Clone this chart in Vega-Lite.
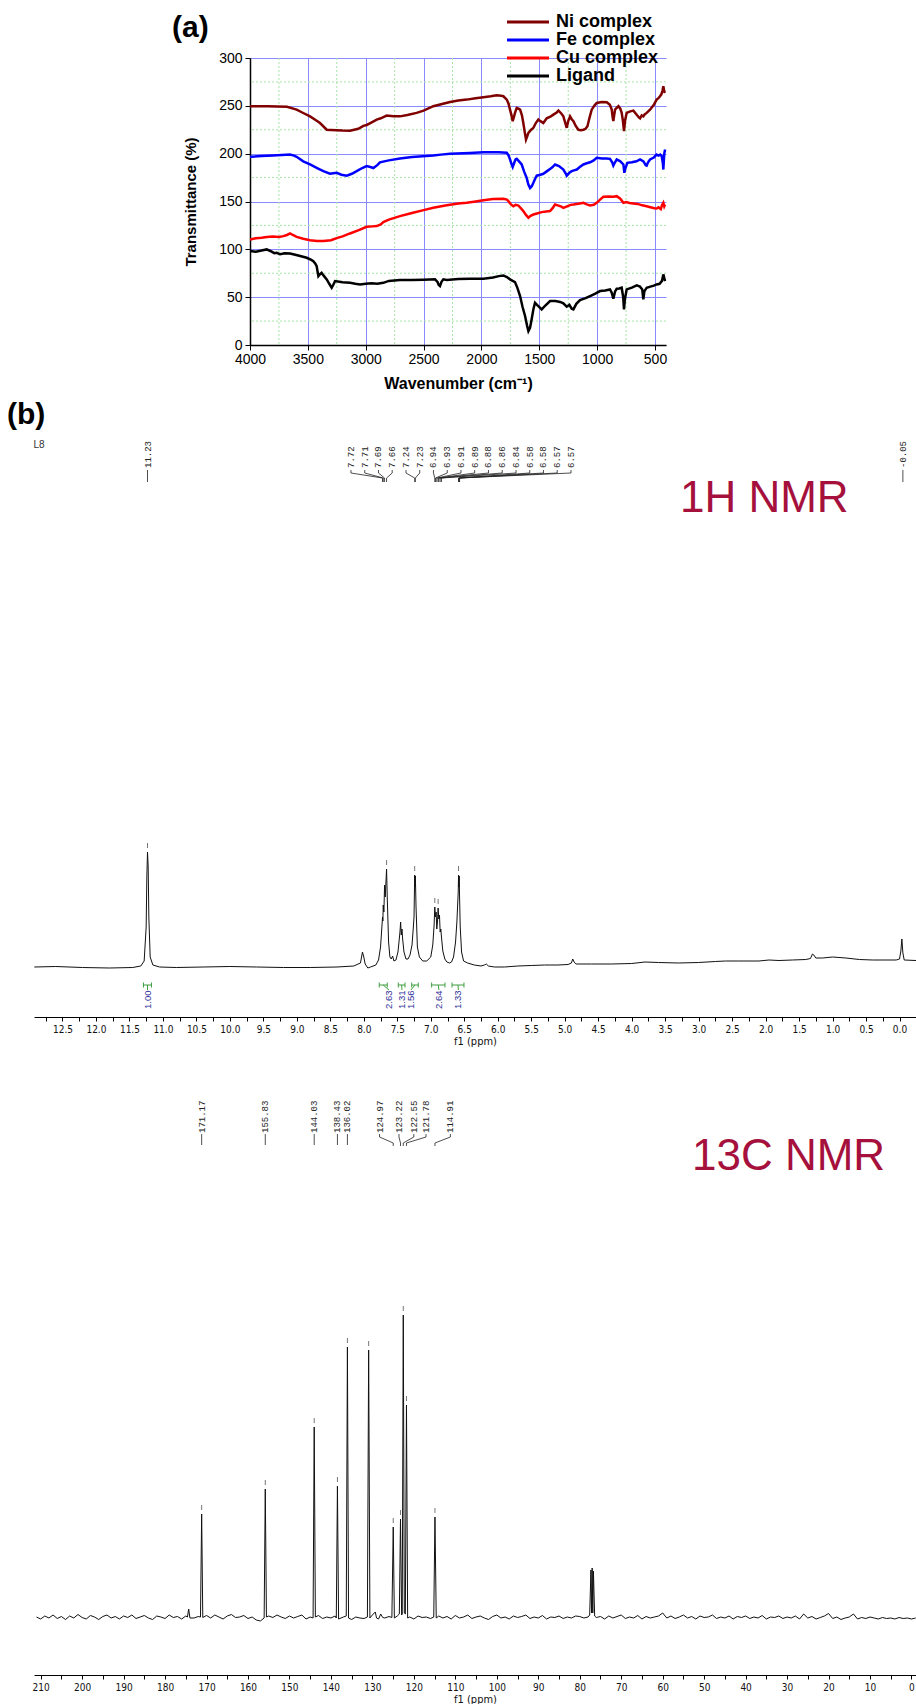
{
"$schema": "https://vega.github.io/schema/vega-lite/v6.json",
"background": "white",
"padding": {"left": 7, "top": 13, "right": 0, "bottom": 0},
"config": {"view": {"stroke": null}, "font": "Liberation Sans", "concat": {"spacing": 8}},
"spacing": 8,
"vconcat": [
{
"spacing": 0,
"hconcat": [
{"width": 138, "height": 10, "data": {"values": [{"lab": ""}]}, "mark": {"type": "text"}, "encoding": {"text": {"field": "lab"}}},
{
"width": 416, "height": 287,
"layer": [
{"data": {"values": [{"w":3750},{"w":3250},{"w":2750},{"w":2250},{"w":1750},{"w":1250},{"w":750}]},
 "mark": {"type": "rule", "color": "#a8e4a8", "strokeDash": [2,2], "strokeWidth": 1},
 "encoding": {"x": {"field": "w", "type": "quantitative", "scale": {"domain": [4000, 405], "nice": false, "zero": false}}}},
{"data": {"values": [{"t":25},{"t":75},{"t":125},{"t":175},{"t":225},{"t":275}]},
 "mark": {"type": "rule", "color": "#a8e4a8", "strokeDash": [2,2], "strokeWidth": 1},
 "encoding": {"y": {"field": "t", "type": "quantitative", "scale": {"domain": [0, 300], "nice": false, "zero": false}}}},
{"data": {"values": [
{"s":"Ni complex","w":4000,"t":249.6},{"s":"Ni complex","w":3850,"t":249.5},{"s":"Ni complex","w":3680,"t":249},{"s":"Ni complex","w":3597,"t":246},{"s":"Ni complex","w":3540,"t":242.5},{"s":"Ni complex","w":3481,"t":239},{"s":"Ni complex","w":3430,"t":235},{"s":"Ni complex","w":3395,"t":232},{"s":"Ni complex","w":3337,"t":225},{"s":"Ni complex","w":3300,"t":224.8},{"s":"Ni complex","w":3251,"t":224.5},{"s":"Ni complex","w":3200,"t":224.2},{"s":"Ni complex","w":3136,"t":224},{"s":"Ni complex","w":3064,"t":226},{"s":"Ni complex","w":3020,"t":229},{"s":"Ni complex","w":2992,"t":230},{"s":"Ni complex","w":2960,"t":232},{"s":"Ni complex","w":2905,"t":235.6},{"s":"Ni complex","w":2870,"t":237},{"s":"Ni complex","w":2819,"t":239.8},{"s":"Ni complex","w":2760,"t":239},{"s":"Ni complex","w":2704,"t":239},{"s":"Ni complex","w":2640,"t":240.5},{"s":"Ni complex","w":2560,"t":242.6},{"s":"Ni complex","w":2500,"t":245},{"s":"Ni complex","w":2416,"t":249.6},{"s":"Ni complex","w":2340,"t":252},{"s":"Ni complex","w":2271,"t":254},{"s":"Ni complex","w":2200,"t":255.5},{"s":"Ni complex","w":2127,"t":256.5},{"s":"Ni complex","w":2050,"t":258},{"s":"Ni complex","w":1983,"t":259},{"s":"Ni complex","w":1920,"t":260},{"s":"Ni complex","w":1868,"t":261},{"s":"Ni complex","w":1830,"t":260.5},{"s":"Ni complex","w":1810,"t":260},{"s":"Ni complex","w":1781,"t":256.5},{"s":"Ni complex","w":1765,"t":252},{"s":"Ni complex","w":1753,"t":246},{"s":"Ni complex","w":1740,"t":240},{"s":"Ni complex","w":1730,"t":234},{"s":"Ni complex","w":1720,"t":238},{"s":"Ni complex","w":1710,"t":242.6},{"s":"Ni complex","w":1695,"t":247.8},{"s":"Ni complex","w":1680,"t":247},{"s":"Ni complex","w":1666,"t":246},{"s":"Ni complex","w":1650,"t":240},{"s":"Ni complex","w":1638,"t":232},{"s":"Ni complex","w":1625,"t":222},{"s":"Ni complex","w":1615,"t":214.8},{"s":"Ni complex","w":1605,"t":218},{"s":"Ni complex","w":1594,"t":221.7},{"s":"Ni complex","w":1570,"t":225},{"s":"Ni complex","w":1551,"t":227},{"s":"Ni complex","w":1530,"t":232},{"s":"Ni complex","w":1508,"t":235.6},{"s":"Ni complex","w":1490,"t":234},{"s":"Ni complex","w":1465,"t":232},{"s":"Ni complex","w":1436,"t":237},{"s":"Ni complex","w":1400,"t":239},{"s":"Ni complex","w":1378,"t":240.8},{"s":"Ni complex","w":1350,"t":243},{"s":"Ni complex","w":1335,"t":245},{"s":"Ni complex","w":1310,"t":242},{"s":"Ni complex","w":1292,"t":239},{"s":"Ni complex","w":1275,"t":232},{"s":"Ni complex","w":1263,"t":227},{"s":"Ni complex","w":1250,"t":234},{"s":"Ni complex","w":1234,"t":239},{"s":"Ni complex","w":1220,"t":236},{"s":"Ni complex","w":1205,"t":234},{"s":"Ni complex","w":1185,"t":229},{"s":"Ni complex","w":1162,"t":225},{"s":"Ni complex","w":1140,"t":224.5},{"s":"Ni complex","w":1119,"t":225},{"s":"Ni complex","w":1100,"t":226},{"s":"Ni complex","w":1084,"t":228.7},{"s":"Ni complex","w":1065,"t":238},{"s":"Ni complex","w":1047,"t":246},{"s":"Ni complex","w":1025,"t":250},{"s":"Ni complex","w":1004,"t":253},{"s":"Ni complex","w":960,"t":254},{"s":"Ni complex","w":917,"t":253.7},{"s":"Ni complex","w":890,"t":251},{"s":"Ni complex","w":874,"t":246},{"s":"Ni complex","w":866,"t":238},{"s":"Ni complex","w":860,"t":234},{"s":"Ni complex","w":853,"t":240},{"s":"Ni complex","w":845,"t":246},{"s":"Ni complex","w":830,"t":248},{"s":"Ni complex","w":816,"t":249.6},{"s":"Ni complex","w":800,"t":247},{"s":"Ni complex","w":788,"t":242.6},{"s":"Ni complex","w":778,"t":235},{"s":"Ni complex","w":768,"t":223.5},{"s":"Ni complex","w":758,"t":235},{"s":"Ni complex","w":745,"t":242.6},{"s":"Ni complex","w":720,"t":244},{"s":"Ni complex","w":687,"t":245},{"s":"Ni complex","w":660,"t":241},{"s":"Ni complex","w":640,"t":238},{"s":"Ni complex","w":629,"t":237},{"s":"Ni complex","w":615,"t":240},{"s":"Ni complex","w":601,"t":239},{"s":"Ni complex","w":590,"t":241},{"s":"Ni complex","w":572,"t":242.6},{"s":"Ni complex","w":543,"t":246},{"s":"Ni complex","w":510,"t":251},{"s":"Ni complex","w":486,"t":256.5},{"s":"Ni complex","w":470,"t":258},{"s":"Ni complex","w":457,"t":260},{"s":"Ni complex","w":445,"t":262},{"s":"Ni complex","w":435,"t":266},{"s":"Ni complex","w":428,"t":270.5},{"s":"Ni complex","w":420,"t":265},{"s":"Ni complex","w":413,"t":263.5},
{"s":"Fe complex","w":4000,"t":196.7},{"s":"Fe complex","w":3900,"t":197.5},{"s":"Fe complex","w":3800,"t":198},{"s":"Fe complex","w":3654,"t":199},{"s":"Fe complex","w":3620,"t":198},{"s":"Fe complex","w":3597,"t":196.7},{"s":"Fe complex","w":3540,"t":192},{"s":"Fe complex","w":3481,"t":188.7},{"s":"Fe complex","w":3420,"t":185},{"s":"Fe complex","w":3366,"t":181.7},{"s":"Fe complex","w":3309,"t":179},{"s":"Fe complex","w":3280,"t":179.5},{"s":"Fe complex","w":3251,"t":180},{"s":"Fe complex","w":3210,"t":178},{"s":"Fe complex","w":3164,"t":177},{"s":"Fe complex","w":3120,"t":179},{"s":"Fe complex","w":3078,"t":181.7},{"s":"Fe complex","w":3030,"t":185},{"s":"Fe complex","w":2992,"t":187},{"s":"Fe complex","w":2960,"t":186},{"s":"Fe complex","w":2934,"t":185},{"s":"Fe complex","w":2900,"t":188},{"s":"Fe complex","w":2877,"t":191},{"s":"Fe complex","w":2800,"t":193},{"s":"Fe complex","w":2704,"t":195},{"s":"Fe complex","w":2600,"t":196.5},{"s":"Fe complex","w":2416,"t":198},{"s":"Fe complex","w":2350,"t":199},{"s":"Fe complex","w":2271,"t":200},{"s":"Fe complex","w":2100,"t":200.8},{"s":"Fe complex","w":1983,"t":201.5},{"s":"Fe complex","w":1850,"t":201.5},{"s":"Fe complex","w":1781,"t":201},{"s":"Fe complex","w":1765,"t":198},{"s":"Fe complex","w":1753,"t":194},{"s":"Fe complex","w":1740,"t":189},{"s":"Fe complex","w":1730,"t":186},{"s":"Fe complex","w":1715,"t":191},{"s":"Fe complex","w":1705,"t":194},{"s":"Fe complex","w":1695,"t":194.6},{"s":"Fe complex","w":1675,"t":192},{"s":"Fe complex","w":1652,"t":188.7},{"s":"Fe complex","w":1630,"t":181},{"s":"Fe complex","w":1609,"t":174.7},{"s":"Fe complex","w":1595,"t":168},{"s":"Fe complex","w":1580,"t":164},{"s":"Fe complex","w":1565,"t":166},{"s":"Fe complex","w":1551,"t":169.5},{"s":"Fe complex","w":1535,"t":174},{"s":"Fe complex","w":1522,"t":177},{"s":"Fe complex","w":1490,"t":178},{"s":"Fe complex","w":1465,"t":179},{"s":"Fe complex","w":1430,"t":182},{"s":"Fe complex","w":1407,"t":184},{"s":"Fe complex","w":1385,"t":186},{"s":"Fe complex","w":1364,"t":188.7},{"s":"Fe complex","w":1330,"t":187},{"s":"Fe complex","w":1292,"t":183.4},{"s":"Fe complex","w":1270,"t":179},{"s":"Fe complex","w":1263,"t":177},{"s":"Fe complex","w":1240,"t":180},{"s":"Fe complex","w":1220,"t":181.7},{"s":"Fe complex","w":1200,"t":182.5},{"s":"Fe complex","w":1176,"t":183.4},{"s":"Fe complex","w":1150,"t":186},{"s":"Fe complex","w":1119,"t":188.7},{"s":"Fe complex","w":1090,"t":190},{"s":"Fe complex","w":1061,"t":191},{"s":"Fe complex","w":1030,"t":193},{"s":"Fe complex","w":1004,"t":195.6},{"s":"Fe complex","w":960,"t":195},{"s":"Fe complex","w":920,"t":195},{"s":"Fe complex","w":889,"t":194.6},{"s":"Fe complex","w":870,"t":191},{"s":"Fe complex","w":860,"t":187.6},{"s":"Fe complex","w":850,"t":190},{"s":"Fe complex","w":831,"t":193.9},{"s":"Fe complex","w":800,"t":192},{"s":"Fe complex","w":773,"t":188.7},{"s":"Fe complex","w":765,"t":180},{"s":"Fe complex","w":755,"t":185},{"s":"Fe complex","w":739,"t":190.4},{"s":"Fe complex","w":700,"t":191},{"s":"Fe complex","w":660,"t":192},{"s":"Fe complex","w":629,"t":193.9},{"s":"Fe complex","w":600,"t":192},{"s":"Fe complex","w":580,"t":188},{"s":"Fe complex","w":572,"t":187.6},{"s":"Fe complex","w":560,"t":191},{"s":"Fe complex","w":543,"t":193.9},{"s":"Fe complex","w":510,"t":196},{"s":"Fe complex","w":486,"t":199},{"s":"Fe complex","w":470,"t":198},{"s":"Fe complex","w":455,"t":199},{"s":"Fe complex","w":442,"t":197.4},{"s":"Fe complex","w":432,"t":190},{"s":"Fe complex","w":428,"t":183.4},{"s":"Fe complex","w":420,"t":200},{"s":"Fe complex","w":413,"t":204.3},
{"s":"Cu complex","w":4000,"t":110.3},{"s":"Cu complex","w":3950,"t":111.5},{"s":"Cu complex","w":3900,"t":112},{"s":"Cu complex","w":3856,"t":113},{"s":"Cu complex","w":3800,"t":113.5},{"s":"Cu complex","w":3750,"t":113},{"s":"Cu complex","w":3712,"t":113.8},{"s":"Cu complex","w":3680,"t":115},{"s":"Cu complex","w":3654,"t":116.6},{"s":"Cu complex","w":3630,"t":115},{"s":"Cu complex","w":3597,"t":113},{"s":"Cu complex","w":3540,"t":111},{"s":"Cu complex","w":3481,"t":109.6},{"s":"Cu complex","w":3420,"t":108.8},{"s":"Cu complex","w":3366,"t":108.6},{"s":"Cu complex","w":3300,"t":109.5},{"s":"Cu complex","w":3251,"t":111.7},{"s":"Cu complex","w":3200,"t":113.5},{"s":"Cu complex","w":3136,"t":116.6},{"s":"Cu complex","w":3060,"t":120},{"s":"Cu complex","w":2992,"t":123.6},{"s":"Cu complex","w":2940,"t":124},{"s":"Cu complex","w":2905,"t":124.3},{"s":"Cu complex","w":2870,"t":126},{"s":"Cu complex","w":2848,"t":128.4},{"s":"Cu complex","w":2800,"t":131},{"s":"Cu complex","w":2704,"t":134.7},{"s":"Cu complex","w":2600,"t":138},{"s":"Cu complex","w":2500,"t":141},{"s":"Cu complex","w":2416,"t":143.4},{"s":"Cu complex","w":2300,"t":146},{"s":"Cu complex","w":2200,"t":148},{"s":"Cu complex","w":2127,"t":148.6},{"s":"Cu complex","w":2050,"t":150},{"s":"Cu complex","w":1983,"t":151.4},{"s":"Cu complex","w":1900,"t":152.5},{"s":"Cu complex","w":1810,"t":152.8},{"s":"Cu complex","w":1780,"t":152},{"s":"Cu complex","w":1767,"t":150.4},{"s":"Cu complex","w":1745,"t":147},{"s":"Cu complex","w":1724,"t":145},{"s":"Cu complex","w":1705,"t":146.5},{"s":"Cu complex","w":1681,"t":145.8},{"s":"Cu complex","w":1660,"t":143},{"s":"Cu complex","w":1638,"t":140},{"s":"Cu complex","w":1615,"t":136},{"s":"Cu complex","w":1594,"t":133},{"s":"Cu complex","w":1575,"t":135},{"s":"Cu complex","w":1551,"t":136.4},{"s":"Cu complex","w":1520,"t":137.5},{"s":"Cu complex","w":1479,"t":138.9},{"s":"Cu complex","w":1440,"t":139.5},{"s":"Cu complex","w":1407,"t":140},{"s":"Cu complex","w":1385,"t":143},{"s":"Cu complex","w":1364,"t":146.9},{"s":"Cu complex","w":1340,"t":146},{"s":"Cu complex","w":1315,"t":145},{"s":"Cu complex","w":1292,"t":143.4},{"s":"Cu complex","w":1260,"t":145},{"s":"Cu complex","w":1230,"t":146.5},{"s":"Cu complex","w":1205,"t":146.9},{"s":"Cu complex","w":1150,"t":148},{"s":"Cu complex","w":1119,"t":148.6},{"s":"Cu complex","w":1090,"t":147},{"s":"Cu complex","w":1061,"t":145.8},{"s":"Cu complex","w":1030,"t":146.5},{"s":"Cu complex","w":1004,"t":148.6},{"s":"Cu complex","w":975,"t":152},{"s":"Cu complex","w":946,"t":154.9},{"s":"Cu complex","w":900,"t":155.3},{"s":"Cu complex","w":860,"t":155},{"s":"Cu complex","w":831,"t":155.6},{"s":"Cu complex","w":800,"t":153},{"s":"Cu complex","w":773,"t":148.6},{"s":"Cu complex","w":750,"t":149.5},{"s":"Cu complex","w":720,"t":148.5},{"s":"Cu complex","w":687,"t":148},{"s":"Cu complex","w":650,"t":147.5},{"s":"Cu complex","w":610,"t":146},{"s":"Cu complex","w":572,"t":145},{"s":"Cu complex","w":540,"t":144},{"s":"Cu complex","w":505,"t":143},{"s":"Cu complex","w":486,"t":142.7},{"s":"Cu complex","w":470,"t":144},{"s":"Cu complex","w":450,"t":142},{"s":"Cu complex","w":440,"t":146},{"s":"Cu complex","w":428,"t":148.6},{"s":"Cu complex","w":420,"t":145},{"s":"Cu complex","w":413,"t":146.9},
{"s":"Ligand","w":4000,"t":98.2},{"s":"Ligand","w":3950,"t":97.5},{"s":"Ligand","w":3900,"t":98.8},{"s":"Ligand","w":3856,"t":99.9},{"s":"Ligand","w":3820,"t":98},{"s":"Ligand","w":3790,"t":96},{"s":"Ligand","w":3770,"t":96.4},{"s":"Ligand","w":3740,"t":95},{"s":"Ligand","w":3700,"t":96},{"s":"Ligand","w":3654,"t":95.7},{"s":"Ligand","w":3600,"t":94},{"s":"Ligand","w":3550,"t":92.5},{"s":"Ligand","w":3510,"t":91.2},{"s":"Ligand","w":3470,"t":89},{"s":"Ligand","w":3453,"t":87.7},{"s":"Ligand","w":3435,"t":85},{"s":"Ligand","w":3424,"t":82.5},{"s":"Ligand","w":3415,"t":76},{"s":"Ligand","w":3409,"t":72},{"s":"Ligand","w":3395,"t":74},{"s":"Ligand","w":3381,"t":75.5},{"s":"Ligand","w":3360,"t":72},{"s":"Ligand","w":3337,"t":68.6},{"s":"Ligand","w":3315,"t":64},{"s":"Ligand","w":3294,"t":59.9},{"s":"Ligand","w":3280,"t":63},{"s":"Ligand","w":3265,"t":66.8},{"s":"Ligand","w":3200,"t":65.5},{"s":"Ligand","w":3136,"t":65},{"s":"Ligand","w":3090,"t":64},{"s":"Ligand","w":3049,"t":63.3},{"s":"Ligand","w":3000,"t":64},{"s":"Ligand","w":2950,"t":64.5},{"s":"Ligand","w":2900,"t":64},{"s":"Ligand","w":2848,"t":65},{"s":"Ligand","w":2800,"t":67},{"s":"Ligand","w":2704,"t":67.9},{"s":"Ligand","w":2600,"t":68},{"s":"Ligand","w":2500,"t":68.3},{"s":"Ligand","w":2401,"t":68.6},{"s":"Ligand","w":2380,"t":66},{"s":"Ligand","w":2370,"t":63},{"s":"Ligand","w":2358,"t":61.6},{"s":"Ligand","w":2345,"t":66},{"s":"Ligand","w":2329,"t":68.6},{"s":"Ligand","w":2300,"t":68},{"s":"Ligand","w":2200,"t":69},{"s":"Ligand","w":2100,"t":69.2},{"s":"Ligand","w":1983,"t":69.3},{"s":"Ligand","w":1900,"t":70.5},{"s":"Ligand","w":1850,"t":72},{"s":"Ligand","w":1810,"t":72.7},{"s":"Ligand","w":1780,"t":71},{"s":"Ligand","w":1753,"t":68.6},{"s":"Ligand","w":1730,"t":67},{"s":"Ligand","w":1710,"t":65.8},{"s":"Ligand","w":1690,"t":60},{"s":"Ligand","w":1666,"t":51.2},{"s":"Ligand","w":1645,"t":40},{"s":"Ligand","w":1623,"t":30.3},{"s":"Ligand","w":1605,"t":20},{"s":"Ligand","w":1594,"t":14.6},{"s":"Ligand","w":1580,"t":18},{"s":"Ligand","w":1566,"t":26.8},{"s":"Ligand","w":1550,"t":38},{"s":"Ligand","w":1537,"t":44.2},{"s":"Ligand","w":1520,"t":42},{"s":"Ligand","w":1508,"t":40.7},{"s":"Ligand","w":1479,"t":37.2},{"s":"Ligand","w":1450,"t":41},{"s":"Ligand","w":1407,"t":45.9},{"s":"Ligand","w":1360,"t":46},{"s":"Ligand","w":1320,"t":45},{"s":"Ligand","w":1292,"t":43.5},{"s":"Ligand","w":1263,"t":40},{"s":"Ligand","w":1240,"t":42},{"s":"Ligand","w":1220,"t":38},{"s":"Ligand","w":1205,"t":37.2},{"s":"Ligand","w":1180,"t":43},{"s":"Ligand","w":1148,"t":47},{"s":"Ligand","w":1100,"t":49},{"s":"Ligand","w":1061,"t":51.2},{"s":"Ligand","w":1020,"t":53.5},{"s":"Ligand","w":975,"t":56.4},{"s":"Ligand","w":930,"t":57},{"s":"Ligand","w":889,"t":58.1},{"s":"Ligand","w":875,"t":55},{"s":"Ligand","w":860,"t":48.4},{"s":"Ligand","w":845,"t":56},{"s":"Ligand","w":831,"t":58.8},{"s":"Ligand","w":810,"t":59},{"s":"Ligand","w":788,"t":59.9},{"s":"Ligand","w":775,"t":50},{"s":"Ligand","w":768,"t":37.2},{"s":"Ligand","w":760,"t":48},{"s":"Ligand","w":745,"t":58.1},{"s":"Ligand","w":700,"t":60},{"s":"Ligand","w":658,"t":62.3},{"s":"Ligand","w":630,"t":61},{"s":"Ligand","w":610,"t":58},{"s":"Ligand","w":601,"t":47.7},{"s":"Ligand","w":592,"t":56},{"s":"Ligand","w":572,"t":59.9},{"s":"Ligand","w":540,"t":61},{"s":"Ligand","w":510,"t":62},{"s":"Ligand","w":486,"t":63.3},{"s":"Ligand","w":460,"t":64},{"s":"Ligand","w":440,"t":67},{"s":"Ligand","w":428,"t":73.8},{"s":"Ligand","w":420,"t":70},{"s":"Ligand","w":413,"t":66.8}
]},
 "mark": {"type": "line", "strokeWidth": 2.5},
 "encoding": {
  "x": {"field": "w", "type": "quantitative", "scale": {"domain": [4000, 405], "nice": false, "zero": false},
        "axis": {"values": [4000,3500,3000,2500,2000,1500,1000,500], "format": "d", "title": "Wavenumber (cm⁻¹)", "grid": true, "gridColor": "#8a8aff", "gridWidth": 1, "domainColor": "black", "domainWidth": 1.5, "tickColor": "black", "tickSize": 5, "labelFontSize": 14, "labelColor": "black", "labelPadding": 2, "labelFlush": false, "labelOverlap": false, "titleFontSize": 16, "titleFontWeight": "bold", "titleColor": "black", "titlePadding": 9}},
  "y": {"field": "t", "type": "quantitative", "scale": {"domain": [0, 300], "nice": false, "zero": false},
        "axis": {"values": [0,50,100,150,200,250,300], "title": "Transmittance (%)", "grid": true, "gridColor": "#8a8aff", "gridWidth": 1, "domainColor": "black", "domainWidth": 1.5, "tickColor": "black", "tickSize": 5, "labelFontSize": 14, "labelColor": "black", "labelPadding": 3, "labelOverlap": false, "titleFontSize": 15, "titleFontWeight": "bold", "titleColor": "black", "titlePadding": 20}},
  "color": {"field": "s", "type": "nominal", "scale": {"domain": ["Ni complex","Fe complex","Cu complex","Ligand"], "range": ["#800000","#0000ff","#ff0000","#000000"]},
        "legend": {"orient": "none", "legendX": 471, "legendY": -45, "direction": "vertical", "title": null, "symbolType": "M-1,0H5", "symbolSize": 196, "symbolStrokeWidth": 3, "labelFontSize": 18, "labelFontWeight": "bold", "labelColor": "black", "labelOffset": 33, "padding": 0, "rowPadding": -0.5}}
 }},
{"data": {"values": [{"lab": "(a)", "w": 4674, "t": 331}]},
 "mark": {"type": "text", "align": "left", "baseline": "middle", "fontSize": 30, "fontWeight": "bold", "color": "black"},
 "encoding": {"x": {"field": "w", "type": "quantitative", "scale": {"domain": [4000, 405], "nice": false, "zero": false}},
              "y": {"field": "t", "type": "quantitative", "scale": {"domain": [0, 300], "nice": false, "zero": false}},
              "text": {"field": "lab"}}}
]
}
]
},
{
"width": 882, "height": 618,
"encoding": {
 "x": {"field": "p", "type": "quantitative", "scale": {"domain": [12.925, -0.246], "nice": false, "zero": false}, "title": "f1 (ppm)",
       "axis": {"values": [12.75,12.5,12.25,12,11.75,11.5,11.25,11,10.75,10.5,10.25,10,9.75,9.5,9.25,9,8.75,8.5,8.25,8,7.75,7.5,7.25,7,6.75,6.5,6.25,6,5.75,5.5,5.25,5,4.75,4.5,4.25,4,3.75,3.5,3.25,3,2.75,2.5,2.25,2,1.75,1.5,1.25,1,0.75,0.5,0.25,0],
                "labelExpr": "(datum.value * 4) % 2 == 0 ? format(datum.value, '.1f') : ''", "grid": false, "domainColor": "black", "tickColor": "black", "tickSize": 4, "labelFontSize": 10, "labelFont": "DejaVu Sans Condensed, Liberation Sans Narrow, Liberation Sans", "labelColor": "#111", "labelPadding": 3, "labelFlush": false, "labelOverlap": false, "labelBound": false, "titleFontSize": 11, "titleFont": "DejaVu Sans Condensed, Liberation Sans Narrow, Liberation Sans", "titleFontWeight": "normal", "titleColor": "#111", "titlePadding": 1}},
 "y": {"field": "v", "type": "quantitative", "scale": {"domain": [0, 618], "nice": false, "zero": false}, "axis": null}
},
"layer": [
{"data": {"values": [
{"p":12.92,"v":50},{"p":12.6,"v":50.5},{"p":12.2,"v":49.5},{"p":11.8,"v":49},{"p":11.45,"v":49.5},{"p":11.33,"v":51},{"p":11.28,"v":56},{"p":11.25,"v":90},{"p":11.24,"v":140},{"p":11.23,"v":165},{"p":11.22,"v":150},{"p":11.21,"v":100},{"p":11.19,"v":60},{"p":11.15,"v":52},{"p":11.05,"v":50},{"p":10.8,"v":49.5},{"p":10.4,"v":50},{"p":10.0,"v":50.5},{"p":9.6,"v":50},{"p":9.2,"v":49.5},{"p":8.8,"v":49.5},{"p":8.4,"v":50},{"p":8.15,"v":51},{"p":8.05,"v":54},{"p":8.02,"v":65},{"p":8.0,"v":60},{"p":7.98,"v":53},{"p":7.94,"v":49},{"p":7.9,"v":50},{"p":7.82,"v":52},{"p":7.78,"v":57},{"p":7.75,"v":70},{"p":7.73,"v":90},{"p":7.72,"v":100},{"p":7.715,"v":96},{"p":7.71,"v":112},{"p":7.7,"v":105},{"p":7.69,"v":132},{"p":7.68,"v":120},{"p":7.66,"v":148},{"p":7.65,"v":120},{"p":7.63,"v":75},{"p":7.61,"v":60},{"p":7.59,"v":58},{"p":7.57,"v":61},{"p":7.55,"v":56},{"p":7.52,"v":57},{"p":7.49,"v":65},{"p":7.47,"v":78},{"p":7.46,"v":85},{"p":7.45,"v":95},{"p":7.44,"v":82},{"p":7.43,"v":88},{"p":7.42,"v":78},{"p":7.4,"v":65},{"p":7.37,"v":58},{"p":7.34,"v":58},{"p":7.31,"v":62},{"p":7.28,"v":72},{"p":7.26,"v":90},{"p":7.25,"v":100},{"p":7.24,"v":142},{"p":7.235,"v":130},{"p":7.23,"v":141},{"p":7.22,"v":110},{"p":7.2,"v":70},{"p":7.17,"v":60},{"p":7.12,"v":56},{"p":7.06,"v":56},{"p":7.0,"v":60},{"p":6.97,"v":72},{"p":6.95,"v":92},{"p":6.94,"v":110},{"p":6.93,"v":100},{"p":6.92,"v":105},{"p":6.91,"v":88},{"p":6.9,"v":95},{"p":6.89,"v":109},{"p":6.88,"v":98},{"p":6.87,"v":102},{"p":6.86,"v":85},{"p":6.85,"v":88},{"p":6.84,"v":80},{"p":6.82,"v":66},{"p":6.79,"v":58},{"p":6.76,"v":55},{"p":6.72,"v":54},{"p":6.69,"v":55},{"p":6.66,"v":60},{"p":6.63,"v":75},{"p":6.61,"v":95},{"p":6.59,"v":125},{"p":6.585,"v":142},{"p":6.58,"v":130},{"p":6.575,"v":141},{"p":6.57,"v":120},{"p":6.56,"v":90},{"p":6.54,"v":65},{"p":6.51,"v":56},{"p":6.45,"v":54},{"p":6.35,"v":52},{"p":6.25,"v":51},{"p":6.2,"v":52},{"p":6.17,"v":53},{"p":6.14,"v":51},{"p":6.05,"v":50},{"p":5.9,"v":50},{"p":5.7,"v":51},{"p":5.5,"v":51.5},{"p":5.3,"v":52},{"p":5.1,"v":52},{"p":4.95,"v":52.5},{"p":4.9,"v":54},{"p":4.88,"v":58},{"p":4.86,"v":55},{"p":4.83,"v":53},{"p":4.6,"v":53},{"p":4.3,"v":53},{"p":4.0,"v":53.5},{"p":3.8,"v":55},{"p":3.6,"v":54.5},{"p":3.3,"v":54},{"p":3.0,"v":54.5},{"p":2.75,"v":55.5},{"p":2.6,"v":56},{"p":2.4,"v":56},{"p":2.1,"v":56},{"p":1.95,"v":57},{"p":1.8,"v":56.5},{"p":1.6,"v":57},{"p":1.4,"v":57.5},{"p":1.33,"v":58.5},{"p":1.3,"v":63},{"p":1.28,"v":62},{"p":1.25,"v":59},{"p":1.15,"v":59},{"p":1.0,"v":60},{"p":0.8,"v":59},{"p":0.6,"v":57.5},{"p":0.4,"v":57},{"p":0.2,"v":57},{"p":0.05,"v":57},{"p":0.0,"v":58},{"p":-0.02,"v":66},{"p":-0.035,"v":78},{"p":-0.05,"v":64},{"p":-0.07,"v":57},{"p":-0.246,"v":56.5}
]},
 "mark": {"type": "line", "color": "#111", "strokeWidth": 1}},
{"data": {"values": [{"p":11.23,"v":169,"v2":174},{"p":7.66,"v":152,"v2":157},{"p":7.24,"v":146,"v2":151},{"p":6.94,"v":114,"v2":119},{"p":6.89,"v":113,"v2":118},{"p":6.585,"v":146,"v2":151}]},
 "mark": {"type": "rule", "color": "#777", "strokeWidth": 1},
 "encoding": {"y2": {"field": "v2"}}},
{"data": {"values": [
{"t":"11.23","p":11.23,"v":549},{"t":"-0.05","p":-0.05,"v":549},
{"t":"7.72","p":8.192,"v":549},{"t":"7.71","p":7.986,"v":549},{"t":"7.69","p":7.781,"v":549},{"t":"7.66","p":7.576,"v":549},{"t":"7.24","p":7.37,"v":549},{"t":"7.23","p":7.165,"v":549},{"t":"6.94","p":6.96,"v":549},{"t":"6.93","p":6.754,"v":549},{"t":"6.91","p":6.549,"v":549},{"t":"6.89","p":6.344,"v":549},{"t":"6.88","p":6.138,"v":549},{"t":"6.86","p":5.933,"v":549},{"t":"6.84","p":5.727,"v":549},{"t":"6.58","p":5.522,"v":549},{"t":"6.58","p":5.317,"v":549},{"t":"6.57","p":5.112,"v":549},{"t":"6.57","p":4.906,"v":549}
]},
 "mark": {"type": "text", "angle": 270, "align": "left", "baseline": "middle", "font": "Liberation Mono, DejaVu Sans Mono", "fontSize": 9, "color": "#222"},
 "encoding": {"text": {"field": "t"}}},
{"data": {"values": [
{"id":"a","k":1,"p":11.23,"v":547},{"id":"a","k":2,"p":11.23,"v":535},
{"id":"b","k":1,"p":-0.05,"v":547},{"id":"b","k":2,"p":-0.05,"v":535},
{"id":"g1","k":1,"p":8.192,"v":547},{"id":"g1","k":2,"p":8.192,"v":544},{"id":"g1","k":3,"p":7.72,"v":539},{"id":"g1","k":4,"p":7.72,"v":535},
{"id":"g2","k":1,"p":7.986,"v":547},{"id":"g2","k":2,"p":7.986,"v":544},{"id":"g2","k":3,"p":7.71,"v":539},{"id":"g2","k":4,"p":7.71,"v":535},
{"id":"g3","k":1,"p":7.781,"v":547},{"id":"g3","k":2,"p":7.781,"v":544},{"id":"g3","k":3,"p":7.69,"v":539},{"id":"g3","k":4,"p":7.69,"v":535},
{"id":"g4","k":1,"p":7.576,"v":547},{"id":"g4","k":2,"p":7.576,"v":544},{"id":"g4","k":3,"p":7.66,"v":539},{"id":"g4","k":4,"p":7.66,"v":535},
{"id":"g5","k":1,"p":7.37,"v":547},{"id":"g5","k":2,"p":7.37,"v":544},{"id":"g5","k":3,"p":7.24,"v":539},{"id":"g5","k":4,"p":7.24,"v":535},
{"id":"g6","k":1,"p":7.165,"v":547},{"id":"g6","k":2,"p":7.165,"v":544},{"id":"g6","k":3,"p":7.23,"v":539},{"id":"g6","k":4,"p":7.23,"v":535},
{"id":"g7","k":1,"p":6.96,"v":547},{"id":"g7","k":2,"p":6.96,"v":544},{"id":"g7","k":3,"p":6.94,"v":539},{"id":"g7","k":4,"p":6.94,"v":535},
{"id":"g8","k":1,"p":6.754,"v":547},{"id":"g8","k":2,"p":6.754,"v":544},{"id":"g8","k":3,"p":6.93,"v":539},{"id":"g8","k":4,"p":6.93,"v":535},
{"id":"g9","k":1,"p":6.549,"v":547},{"id":"g9","k":2,"p":6.549,"v":544},{"id":"g9","k":3,"p":6.91,"v":539},{"id":"g9","k":4,"p":6.91,"v":535},
{"id":"g10","k":1,"p":6.344,"v":547},{"id":"g10","k":2,"p":6.344,"v":544},{"id":"g10","k":3,"p":6.89,"v":539},{"id":"g10","k":4,"p":6.89,"v":535},
{"id":"g11","k":1,"p":6.138,"v":547},{"id":"g11","k":2,"p":6.138,"v":544},{"id":"g11","k":3,"p":6.88,"v":539},{"id":"g11","k":4,"p":6.88,"v":535},
{"id":"g12","k":1,"p":5.933,"v":547},{"id":"g12","k":2,"p":5.933,"v":544},{"id":"g12","k":3,"p":6.86,"v":539},{"id":"g12","k":4,"p":6.86,"v":535},
{"id":"g13","k":1,"p":5.727,"v":547},{"id":"g13","k":2,"p":5.727,"v":544},{"id":"g13","k":3,"p":6.84,"v":539},{"id":"g13","k":4,"p":6.84,"v":535},
{"id":"g14","k":1,"p":5.522,"v":547},{"id":"g14","k":2,"p":5.522,"v":544},{"id":"g14","k":3,"p":6.585,"v":539},{"id":"g14","k":4,"p":6.585,"v":535},
{"id":"g15","k":1,"p":5.317,"v":547},{"id":"g15","k":2,"p":5.317,"v":544},{"id":"g15","k":3,"p":6.58,"v":539},{"id":"g15","k":4,"p":6.58,"v":535},
{"id":"g16","k":1,"p":5.112,"v":547},{"id":"g16","k":2,"p":5.112,"v":544},{"id":"g16","k":3,"p":6.575,"v":539},{"id":"g16","k":4,"p":6.575,"v":535},
{"id":"g17","k":1,"p":4.906,"v":547},{"id":"g17","k":2,"p":4.906,"v":544},{"id":"g17","k":3,"p":6.57,"v":539},{"id":"g17","k":4,"p":6.57,"v":535}
]},
 "mark": {"type": "line", "color": "#222", "strokeWidth": 0.8},
 "encoding": {"detail": {"field": "id"}, "order": {"field": "k"}}},
{"data": {"values": [
{"p":11.29,"p2":11.17,"v":32,"v2":32},{"p":7.769,"p2":7.65,"v":32,"v2":32},{"p":7.485,"p2":7.385,"v":32,"v2":32},{"p":7.285,"p2":7.187,"v":32,"v2":32},{"p":6.987,"p2":6.788,"v":32,"v2":32},{"p":6.683,"p2":6.504,"v":32,"v2":32},
{"p":11.29,"p2":11.29,"v":29.5,"v2":34.5},{"p":11.17,"p2":11.17,"v":29.5,"v2":34.5},{"p":7.769,"p2":7.769,"v":29.5,"v2":34.5},{"p":7.65,"p2":7.65,"v":29.5,"v2":34.5},{"p":7.485,"p2":7.485,"v":29.5,"v2":34.5},{"p":7.385,"p2":7.385,"v":29.5,"v2":34.5},{"p":7.285,"p2":7.285,"v":29.5,"v2":34.5},{"p":7.187,"p2":7.187,"v":29.5,"v2":34.5},{"p":6.987,"p2":6.987,"v":29.5,"v2":34.5},{"p":6.788,"p2":6.788,"v":29.5,"v2":34.5},{"p":6.683,"p2":6.683,"v":29.5,"v2":34.5},{"p":6.504,"p2":6.504,"v":29.5,"v2":34.5},
{"p":11.23,"p2":11.23,"v":27,"v2":32},{"p":7.624,"p2":7.71,"v":27,"v2":32},{"p":7.43,"p2":7.435,"v":27,"v2":32},{"p":7.296,"p2":7.236,"v":27,"v2":32},{"p":6.878,"p2":6.888,"v":27,"v2":32},{"p":6.587,"p2":6.594,"v":27,"v2":32}
]},
 "mark": {"type": "rule", "color": "#3f9f3f", "strokeWidth": 1},
 "encoding": {"x2": {"field": "p2"}, "y2": {"field": "v2"}}},
{"data": {"values": [{"t":"1.00","p":11.23,"v":8},{"t":"2.63","p":7.624,"v":8},{"t":"1.31","p":7.43,"v":8},{"t":"1.56","p":7.296,"v":8},{"t":"2.64","p":6.878,"v":8},{"t":"1.33","p":6.587,"v":8}]},
 "mark": {"type": "text", "angle": 270, "align": "left", "baseline": "middle", "fontSize": 9.5, "color": "#30309a"},
 "encoding": {"text": {"field": "t"}}},
{"data": {"values": [{"t":"1H NMR","p":3.279,"v":505}]},
 "mark": {"type": "text", "align": "left", "baseline": "alphabetic", "fontSize": 44, "color": "#a6103c"},
 "encoding": {"text": {"field": "t"}}},
{"data": {"values": [{"t":"L8","p":12.85,"v":572}]},
 "mark": {"type": "text", "align": "center", "baseline": "middle", "fontSize": 10, "color": "#333"},
 "encoding": {"text": {"field": "t"}}},
{"data": {"values": [{"t":"(b)","p":13.328,"v":602}]},
 "mark": {"type": "text", "align": "left", "baseline": "middle", "fontSize": 30, "fontWeight": "bold", "color": "black"},
 "encoding": {"text": {"field": "t"}}}
]
},
{
"width": 882, "height": 621,
"encoding": {
 "x": {"field": "p", "type": "quantitative", "scale": {"domain": [211.6, -1.09], "nice": false, "zero": false}, "title": "f1 (ppm)",
       "axis": {"values": [210,205,200,195,190,185,180,175,170,165,160,155,150,145,140,135,130,125,120,115,110,105,100,95,90,85,80,75,70,65,60,55,50,45,40,35,30,25,20,15,10,5,0],
                "labelExpr": "datum.value % 10 == 0 ? format(datum.value, 'd') : ''", "grid": false, "domainColor": "black", "tickColor": "black", "tickSize": 4, "labelFontSize": 10, "labelFont": "DejaVu Sans Condensed, Liberation Sans Narrow, Liberation Sans", "labelColor": "#111", "labelPadding": 3, "labelFlush": false, "labelOverlap": false, "labelBound": false, "titleFontSize": 11, "titleFont": "DejaVu Sans Condensed, Liberation Sans Narrow, Liberation Sans", "titleFontWeight": "normal", "titleColor": "#111", "titlePadding": 1}},
 "y": {"field": "v", "type": "quantitative", "scale": {"domain": [0, 621], "nice": false, "zero": false}, "axis": null}
},
"layer": [
{"data": {"values": [
{"p":211,"v":58},{"p":210,"v":56},{"p":209,"v":59},{"p":208,"v":57},{"p":207,"v":60},{"p":206,"v":56.5},{"p":205,"v":58.5},{"p":204,"v":55.5},{"p":203,"v":59},{"p":202,"v":57},{"p":201,"v":60.5},{"p":200,"v":57.5},{"p":199,"v":56},{"p":198,"v":59.5},{"p":197,"v":58},{"p":196,"v":55.5},{"p":195,"v":58.5},{"p":194,"v":60},{"p":193,"v":57},{"p":192,"v":58.5},{"p":191,"v":56},{"p":190,"v":59},{"p":189,"v":57.5},{"p":188,"v":60},{"p":187,"v":56.5},{"p":186,"v":58},{"p":185,"v":59.5},{"p":184,"v":57},{"p":183,"v":55.5},{"p":182,"v":59},{"p":181,"v":58},{"p":180,"v":56.5},{"p":179,"v":60},{"p":178,"v":57.5},{"p":177,"v":58.5},{"p":176,"v":56},{"p":175,"v":59},{"p":174.6,"v":58},{"p":174.3,"v":66},{"p":174.0,"v":57},{"p":173,"v":57},{"p":172,"v":58.5},{"p":171.45,"v":58},{"p":171.17,"v":161},{"p":170.9,"v":57.5},{"p":170,"v":59.5},{"p":169,"v":57},{"p":168,"v":60},{"p":167,"v":58},{"p":166,"v":56},{"p":165,"v":59},{"p":164,"v":60.5},{"p":163,"v":57.5},{"p":162,"v":58},{"p":161,"v":59.5},{"p":160,"v":56.5},{"p":159,"v":58},{"p":158,"v":55},{"p":157,"v":54},{"p":156.1,"v":57},{"p":155.83,"v":186},{"p":155.55,"v":58},{"p":155,"v":59},{"p":154,"v":57.5},{"p":153,"v":60},{"p":152,"v":58},{"p":151,"v":56.5},{"p":150,"v":59},{"p":149,"v":57},{"p":148,"v":58.5},{"p":147,"v":60},{"p":146,"v":56},{"p":145,"v":58},{"p":144.3,"v":57},{"p":144.03,"v":248},{"p":143.75,"v":58},{"p":143,"v":59.5},{"p":142,"v":56.5},{"p":141,"v":58},{"p":140,"v":57},{"p":139,"v":59},{"p":138.7,"v":57},{"p":138.43,"v":189},{"p":138.15,"v":56},{"p":137,"v":58},{"p":136.3,"v":59},{"p":136.02,"v":328},{"p":135.75,"v":57},{"p":135,"v":55.5},{"p":134,"v":58},{"p":133,"v":57},{"p":132,"v":56.5},{"p":131.2,"v":58},{"p":130.9,"v":325},{"p":130.6,"v":57},{"p":130,"v":60},{"p":129.3,"v":63},{"p":129,"v":57},{"p":128.5,"v":56},{"p":128,"v":61},{"p":127.5,"v":57.5},{"p":127,"v":57},{"p":126,"v":58.5},{"p":125.3,"v":57.5},{"p":124.97,"v":148},{"p":124.7,"v":57},{"p":124,"v":59},{"p":123.5,"v":61},{"p":123.22,"v":156},{"p":122.95,"v":60},{"p":122.8,"v":61},{"p":122.55,"v":360},{"p":122.3,"v":62},{"p":122.05,"v":61},{"p":121.78,"v":270},{"p":121.5,"v":57},{"p":121,"v":58},{"p":120,"v":56},{"p":119,"v":59},{"p":118,"v":57.5},{"p":117,"v":58},{"p":116,"v":56.5},{"p":115.2,"v":58},{"p":114.91,"v":158},{"p":114.6,"v":57},{"p":114,"v":59},{"p":113,"v":57},{"p":112,"v":58.5},{"p":111,"v":56},{"p":110,"v":59.5},{"p":109,"v":57},{"p":108,"v":58},{"p":107,"v":60},{"p":106,"v":56.5},{"p":105,"v":58},{"p":104,"v":59},{"p":103,"v":57},{"p":102,"v":55.5},{"p":101,"v":58.5},{"p":100,"v":60},{"p":99,"v":57},{"p":98,"v":58},{"p":97,"v":56},{"p":96,"v":59},{"p":95,"v":57.5},{"p":94,"v":58.5},{"p":93,"v":60},{"p":92,"v":56.5},{"p":91,"v":58},{"p":90,"v":57},{"p":89,"v":59.5},{"p":88,"v":56},{"p":87,"v":58},{"p":86,"v":57.5},{"p":85,"v":59},{"p":84,"v":56.5},{"p":83,"v":58},{"p":82,"v":57},{"p":81,"v":59},{"p":80,"v":58.5},{"p":79,"v":57},{"p":78,"v":58},{"p":77.6,"v":60},{"p":77.3,"v":105},{"p":77.15,"v":62},{"p":77.0,"v":107},{"p":76.85,"v":62},{"p":76.7,"v":104},{"p":76.4,"v":59},{"p":76,"v":57.5},{"p":75,"v":58.5},{"p":74,"v":56},{"p":73,"v":59},{"p":72,"v":57},{"p":71,"v":58.5},{"p":70,"v":60},{"p":69,"v":56.5},{"p":68,"v":58},{"p":67,"v":57},{"p":66,"v":59.5},{"p":65,"v":56},{"p":64,"v":58.5},{"p":63,"v":57},{"p":62,"v":58},{"p":61,"v":59},{"p":60,"v":62},{"p":59,"v":57},{"p":58,"v":59},{"p":57,"v":56.5},{"p":56,"v":58},{"p":55,"v":60},{"p":54,"v":57},{"p":53,"v":58.5},{"p":52,"v":56},{"p":51,"v":59},{"p":50,"v":57.5},{"p":49,"v":58},{"p":48,"v":60},{"p":47,"v":56.5},{"p":46,"v":58},{"p":45,"v":57},{"p":44,"v":59},{"p":43,"v":56},{"p":42,"v":58.5},{"p":41,"v":57.5},{"p":40,"v":59},{"p":39,"v":56.5},{"p":38,"v":58},{"p":37,"v":57},{"p":36,"v":59.5},{"p":35,"v":56},{"p":34,"v":58},{"p":33,"v":57.5},{"p":32,"v":59},{"p":31,"v":56.5},{"p":30,"v":58},{"p":29,"v":57},{"p":28,"v":59},{"p":27,"v":56},{"p":26,"v":61},{"p":25,"v":57},{"p":24,"v":58.5},{"p":23,"v":56},{"p":22,"v":57.5},{"p":21,"v":59},{"p":20,"v":61.5},{"p":19,"v":56.5},{"p":18,"v":58},{"p":17,"v":55.5},{"p":16,"v":57},{"p":15,"v":58},{"p":14,"v":61},{"p":13,"v":56},{"p":12,"v":57.5},{"p":11,"v":56.5},{"p":10,"v":58},{"p":9,"v":57},{"p":8,"v":56},{"p":7,"v":57.5},{"p":6,"v":56.5},{"p":5,"v":57},{"p":4,"v":56},{"p":3,"v":57.5},{"p":2,"v":56.5},{"p":1,"v":57},{"p":0,"v":56},{"p":-1,"v":57}
]},
 "mark": {"type": "line", "color": "#111", "strokeWidth": 1}},
{"data": {"values": [{"p":171.17,"v":165,"v2":170},{"p":155.83,"v":190,"v2":195},{"p":144.03,"v":252,"v2":257},{"p":138.43,"v":193,"v2":198},{"p":136.02,"v":332,"v2":337},{"p":130.9,"v":329,"v2":334},{"p":124.97,"v":152,"v2":157},{"p":123.22,"v":160,"v2":165},{"p":122.55,"v":364,"v2":369},{"p":121.78,"v":274,"v2":279},{"p":114.91,"v":162,"v2":167}]},
 "mark": {"type": "rule", "color": "#777", "strokeWidth": 1},
 "encoding": {"y2": {"field": "v2"}}},
{"data": {"values": [
{"t":"171.17","p":171.17,"v":542},{"t":"155.83","p":155.83,"v":542},{"t":"144.03","p":144.03,"v":542},{"t":"138.43","p":138.43,"v":542},{"t":"136.02","p":136.02,"v":542},{"t":"124.97","p":128.27,"v":542},{"t":"123.22","p":123.59,"v":542},{"t":"122.55","p":120.01,"v":542},{"t":"121.78","p":117.07,"v":542},{"t":"114.91","p":111.19,"v":542}
]},
 "mark": {"type": "text", "angle": 270, "align": "left", "baseline": "middle", "font": "Liberation Mono, DejaVu Sans Mono", "fontSize": 9, "color": "#222"},
 "encoding": {"text": {"field": "t"}}},
{"data": {"values": [
{"id":"s1","k":1,"p":171.17,"v":541},{"id":"s1","k":2,"p":171.17,"v":530},
{"id":"s2","k":1,"p":155.83,"v":541},{"id":"s2","k":2,"p":155.83,"v":530},
{"id":"s3","k":1,"p":144.03,"v":541},{"id":"s3","k":2,"p":144.03,"v":530},
{"id":"s4","k":1,"p":138.43,"v":541},{"id":"s4","k":2,"p":138.43,"v":530},
{"id":"s5","k":1,"p":136.02,"v":541},{"id":"s5","k":2,"p":136.02,"v":530},
{"id":"c1","k":1,"p":128.27,"v":541},{"id":"c1","k":2,"p":128.27,"v":538},{"id":"c1","k":3,"p":124.97,"v":532},{"id":"c1","k":4,"p":124.97,"v":529},
{"id":"c2","k":1,"p":123.59,"v":541},{"id":"c2","k":2,"p":123.59,"v":538},{"id":"c2","k":3,"p":123.22,"v":532},{"id":"c2","k":4,"p":123.22,"v":529},
{"id":"c3","k":1,"p":120.01,"v":541},{"id":"c3","k":2,"p":120.01,"v":538},{"id":"c3","k":3,"p":122.55,"v":532},{"id":"c3","k":4,"p":122.55,"v":529},
{"id":"c4","k":1,"p":117.07,"v":541},{"id":"c4","k":2,"p":117.07,"v":538},{"id":"c4","k":3,"p":121.78,"v":532},{"id":"c4","k":4,"p":121.78,"v":529},
{"id":"c5","k":1,"p":111.19,"v":541},{"id":"c5","k":2,"p":111.19,"v":538},{"id":"c5","k":3,"p":114.91,"v":532},{"id":"c5","k":4,"p":114.91,"v":529}
]},
 "mark": {"type": "line", "color": "#222", "strokeWidth": 0.8},
 "encoding": {"detail": {"field": "id"}, "order": {"field": "k"}}},
{"data": {"values": [{"t":"13C NMR","p":52.93,"v":505}]},
 "mark": {"type": "text", "align": "left", "baseline": "alphabetic", "fontSize": 44, "color": "#a6103c"},
 "encoding": {"text": {"field": "t"}}}
]
}
]
}
